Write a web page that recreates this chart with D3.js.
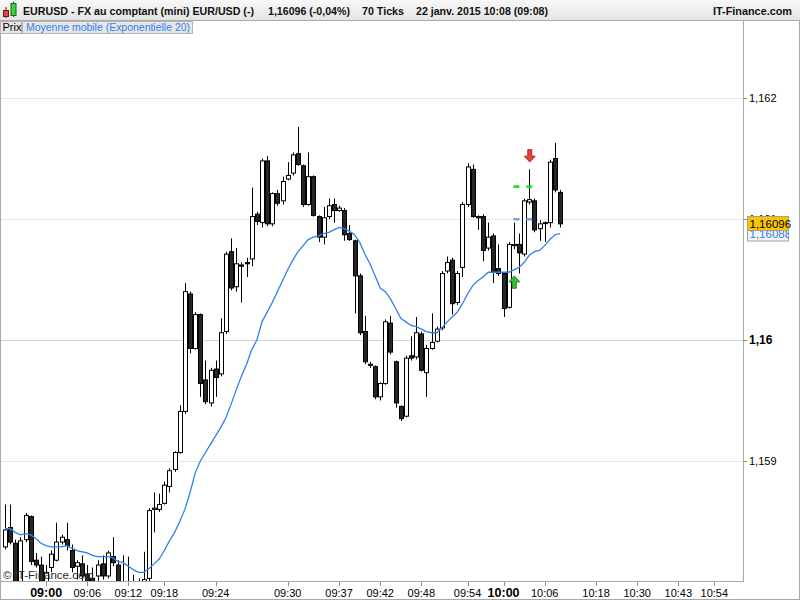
<!DOCTYPE html>
<html>
<head>
<meta charset="utf-8">
<script src="https://cdn.jsdelivr.net/npm/d3@7"></script>
<style>
  body { margin: 0; background: #fff; }
  svg { display: block; font-family: "Liberation Sans", Arial, sans-serif; }
</style>
</head>
<body>
<svg id="chart" width="800" height="600"></svg>
<script>
// 70-tick candles, EURUSD, 22 janv. 2015
const opens = [
  1.15829, 1.15845, 1.15832, 1.15797, 1.15835, 1.15854, 1.15818, 1.15814, 1.15797, 1.15812,
  1.15818, 1.15833, 1.15835, 1.15826, 1.15813, 1.15815, 1.15806, 1.15803, 1.15805, 1.15815,
  1.15805, 1.15821, 1.15814, 1.15799, 1.15798, 1.15789, 1.15795, 1.15793, 1.15803, 1.15860,
  1.15860, 1.15865, 1.15879, 1.15893, 1.15907, 1.15941, 1.16038, 1.15993, 1.16021, 1.15967,
  1.15948, 1.15976, 1.15972, 1.16007, 1.16073, 1.16044, 1.16062, 1.16064, 1.16067, 1.16104,
  1.16097, 1.16148, 1.16096, 1.16121, 1.16115, 1.16133, 1.16138, 1.16154, 1.16144, 1.16112,
  1.16135, 1.16102, 1.16085, 1.16102, 1.16112, 1.16107, 1.16107, 1.16088, 1.16082, 1.16053,
  1.16007, 1.15979, 1.15978, 1.15953, 1.15964, 1.16014, 1.15982, 1.15945, 1.15937, 1.15987,
  1.15986, 1.16005, 1.15973, 1.15993, 1.15999, 1.16010, 1.16057, 1.16066, 1.16031, 1.16060,
  1.16112, 1.16141, 1.16102, 1.16102, 1.16076, 1.16086, 1.16059, 1.16055, 1.16027, 1.16078,
  1.16079, 1.16071, 1.16114, 1.16115, 1.16092, 1.16097, 1.16097, 1.16150, 1.16122
];
const highs = [
  1.15864, 1.15864, 1.15835, 1.15837, 1.15857, 1.15855, 1.15824, 1.15821, 1.15814, 1.15826,
  1.15849, 1.15839, 1.15849, 1.15831, 1.15818, 1.15822, 1.15814, 1.15812, 1.15818, 1.15822,
  1.15826, 1.15837, 1.15818, 1.15822, 1.15821, 1.15806, 1.15803, 1.15825, 1.15861, 1.15874,
  1.15873, 1.15883, 1.15894, 1.15908, 1.15946, 1.16047, 1.16040, 1.16023, 1.16022, 1.15983,
  1.15977, 1.15983, 1.16018, 1.16073, 1.16084, 1.16076, 1.16064, 1.16068, 1.16126, 1.16106,
  1.16150, 1.16152, 1.16122, 1.16124, 1.16135, 1.16147, 1.16155, 1.16176, 1.16145, 1.16155,
  1.16136, 1.16103, 1.16110, 1.16117, 1.16117, 1.16111, 1.16109, 1.16095, 1.16083, 1.16055,
  1.16020, 1.15982, 1.15979, 1.15965, 1.16017, 1.16020, 1.15983, 1.15946, 1.15987, 1.16003,
  1.16019, 1.16007, 1.15996, 1.16022, 1.16011, 1.16057, 1.16069, 1.16068, 1.16057, 1.16114,
  1.16146, 1.16145, 1.16103, 1.16104, 1.16097, 1.16088, 1.16079, 1.16056, 1.16081, 1.16097,
  1.16088, 1.16117, 1.16141, 1.16117, 1.16099, 1.16098, 1.16149, 1.16163, 1.16124
];
const lows = [
  1.15827, 1.15831, 1.15793, 1.15793, 1.15833, 1.15814, 1.15812, 1.15793, 1.15793, 1.15808,
  1.15817, 1.15831, 1.15826, 1.15808, 1.15802, 1.15800, 1.15793, 1.15793, 1.15800, 1.15802,
  1.15803, 1.15813, 1.15793, 1.15789, 1.15787, 1.15785, 1.15788, 1.15790, 1.15800, 1.15841,
  1.15858, 1.15864, 1.15874, 1.15891, 1.15906, 1.15939, 1.15989, 1.15992, 1.15953, 1.15947,
  1.15945, 1.15953, 1.15970, 1.16005, 1.16041, 1.16040, 1.16031, 1.16052, 1.16061, 1.16095,
  1.16093, 1.16094, 1.16094, 1.16111, 1.16112, 1.16132, 1.16136, 1.16144, 1.16110, 1.16111,
  1.16102, 1.16081, 1.16079, 1.16100, 1.16097, 1.16106, 1.16082, 1.16082, 1.16022, 1.16004,
  1.15980, 1.15977, 1.15951, 1.15950, 1.15963, 1.15988, 1.15944, 1.15933, 1.15936, 1.15983,
  1.15984, 1.15974, 1.15953, 1.15992, 1.15998, 1.16008, 1.16055, 1.16021, 1.16029, 1.16052,
  1.16110, 1.16101, 1.16091, 1.16065, 1.16074, 1.16047, 1.16053, 1.16019, 1.16026, 1.16075,
  1.16055, 1.16069, 1.16112, 1.16089, 1.16082, 1.16081, 1.16093, 1.16122, 1.16093
];
const closes = [
  1.15843, 1.15833, 1.15797, 1.15834, 1.15855, 1.15817, 1.15814, 1.15797, 1.15808, 1.15823,
  1.15833, 1.15837, 1.15830, 1.15812, 1.15816, 1.15805, 1.15798, 1.15797, 1.15814, 1.15805,
  1.15824, 1.15816, 1.15797, 1.15792, 1.15789, 1.15795, 1.15792, 1.15802, 1.15859, 1.15861,
  1.15864, 1.15880, 1.15892, 1.15907, 1.15941, 1.16040, 1.15993, 1.16021, 1.15964, 1.15949,
  1.15975, 1.15969, 1.16006, 1.16071, 1.16043, 1.16063, 1.16061, 1.16063, 1.16102, 1.16098,
  1.16148, 1.16096, 1.16121, 1.16113, 1.16131, 1.16136, 1.16153, 1.16145, 1.16112, 1.16135,
  1.16103, 1.16085, 1.16101, 1.16111, 1.16107, 1.16109, 1.16087, 1.16083, 1.16053, 1.16006,
  1.15982, 1.15980, 1.15953, 1.15964, 1.16015, 1.15990, 1.15948, 1.15935, 1.15985, 1.15985,
  1.16006, 1.15975, 1.15993, 1.15998, 1.16009, 1.16055, 1.16064, 1.16030, 1.16055, 1.16112,
  1.16143, 1.16102, 1.16101, 1.16074, 1.16085, 1.16056, 1.16055, 1.16026, 1.16079, 1.16079,
  1.16072, 1.16115, 1.16116, 1.16091, 1.16096, 1.16097, 1.16147, 1.16124, 1.16096
];
// Moyenne mobile (Exponentielle 20)
const ema20 = [
  1.15844, 1.15844, 1.15841, 1.15839, 1.15840, 1.15839, 1.15836, 1.15832, 1.15830, 1.15829,
  1.15829, 1.15829, 1.15830, 1.15828, 1.15826, 1.15825, 1.15824, 1.15822, 1.15821, 1.15821,
  1.15821, 1.15820, 1.15817, 1.15816, 1.15813, 1.15810, 1.15808, 1.15808, 1.15811, 1.15815,
  1.15819, 1.15826, 1.15834, 1.15841, 1.15850, 1.15860, 1.15874, 1.15890, 1.15900, 1.15907,
  1.15914, 1.15921, 1.15928, 1.15936, 1.15947, 1.15959, 1.15970, 1.15980, 1.15992, 1.16000,
  1.16015, 1.16023, 1.16031, 1.16040, 1.16049, 1.16058, 1.16066, 1.16073, 1.16078, 1.16083,
  1.16085, 1.16086, 1.16088, 1.16089, 1.16091, 1.16093, 1.16092, 1.16090, 1.16087, 1.16081,
  1.16071, 1.16063, 1.16053, 1.16043, 1.16040, 1.16034, 1.16026, 1.16018, 1.16015, 1.16012,
  1.16011, 1.16009, 1.16007, 1.16006, 1.16006, 1.16010, 1.16015, 1.16019, 1.16023, 1.16030,
  1.16038, 1.16045, 1.16049, 1.16052, 1.16056, 1.16056, 1.16056, 1.16056, 1.16056, 1.16058,
  1.16060, 1.16064, 1.16070, 1.16073, 1.16074, 1.16078, 1.16083, 1.16087, 1.16088
];

const timeLabels = ["09:00", "09:06", "09:12", "09:18", "09:24", "09:30", "09:37", "09:42",
  "09:48", "09:54", "10:00", "10:06", "10:18", "10:30", "10:43", "10:54"];
const timeIndex = [8, 16, 24, 31, 41, 55, 65, 73, 81, 90, 97, 105, 115, 123, 131, 138];
const boldTimes = ["09:00", "10:00"];
const priceTicks = [1.159, 1.16, 1.161, 1.162];
const priceLabels = ["1,159", "1,16", "1,161", "1,162"];

const lastPrice = 1.16096;
const lastEma = 1.16088;
// signals: [candle index, price]
const downArrows = [[102, 1.16147]];
const upArrows = [[99, 1.16053]];
const greenDashes = [[99.5, 1.16127], [102, 1.16127]];
const blueDashes = [[99.5, 1.16100], [102, 1.16100]];

const PLOT = { left: 1, right: 743, top: 20, bottom: 581 };
const BLUE = "#2f80ee";

const svg = d3.select("#chart");

const x = d3.scaleLinear().domain([0, 138]).range([5, 714.3]);
const y = d3.scaleLinear().domain([1.159, 1.162]).range([461, 98]);

const candles = opens.map((o, i) => ({
  i, o, h: highs[i], l: lows[i], c: closes[i]
}));

const fmtPrice = v => d3.format(".5f")(v).replace(".", ",");

// background
svg.append("rect").attr("width", 800).attr("height", 600).attr("fill", "#fff");

svg.append("defs").append("clipPath").attr("id", "plotClip")
  .append("rect")
  .attr("x", PLOT.left).attr("y", PLOT.top)
  .attr("width", PLOT.right - PLOT.left).attr("height", PLOT.bottom - PLOT.top);

// grid
const gridLayer = svg.append("g");
gridLayer.selectAll("line")
  .data(priceTicks)
  .join("line")
  .attr("x1", PLOT.left).attr("x2", PLOT.right + 4)
  .attr("y1", d => Math.round(y(d)) + 0.5)
  .attr("y2", d => Math.round(y(d)) + 0.5)
  .attr("stroke", d => d === 1.16 ? "#d4d4d4" : "#e6e6e6");

// candles
const plot = svg.append("g").attr("clip-path", "url(#plotClip)");
const candleGroups = plot.append("g")
  .selectAll("g")
  .data(candles)
  .join("g");

candleGroups.append("line")
  .attr("x1", d => Math.round(x(d.i)) + 0.5)
  .attr("x2", d => Math.round(x(d.i)) + 0.5)
  .attr("y1", d => y(d.h))
  .attr("y2", d => y(d.l))
  .attr("stroke", "#000");

candleGroups.append("rect")
  .attr("x", d => Math.round(x(d.i)) - 1.5)
  .attr("width", 4)
  .attr("y", d => y(Math.max(d.o, d.c)))
  .attr("height", d => Math.max(1, y(Math.min(d.o, d.c)) - y(Math.max(d.o, d.c))))
  .attr("fill", d => d.c >= d.o ? "#fff" : "#262626")
  .attr("stroke", "#000")
  .attr("stroke-width", 1);

// EMA 20
plot.append("path")
  .datum(ema20)
  .attr("fill", "none")
  .attr("stroke", BLUE)
  .attr("stroke-width", 1.3)
  .attr("d", d3.line().x((d, i) => x(i)).y(d => y(d)));

// signal markers
const dashLayer = plot.append("g");
dashLayer.selectAll("rect.green")
  .data(greenDashes)
  .join("rect")
  .attr("class", "green")
  .attr("x", d => x(d[0]) - 3).attr("y", d => y(d[1]) - 1)
  .attr("width", 6).attr("height", 2.5)
  .attr("fill", "#16e016");
dashLayer.selectAll("rect.blue")
  .data(blueDashes)
  .join("rect")
  .attr("class", "blue")
  .attr("x", d => x(d[0]) - 3).attr("y", d => y(d[1]) - 1)
  .attr("width", 6).attr("height", 2.5)
  .attr("fill", "#6ea2f2");

const arrowPath = dir => {
  // tip at (0,0); dir = 1 points down, -1 points up
  const s = -dir;
  return `M0,0 L-5.5,${6 * s} L-2,${6 * s} L-2,${12.5 * s} L2,${12.5 * s} L2,${6 * s} L5.5,${6 * s} Z`;
};
plot.append("g").selectAll("path")
  .data(downArrows)
  .join("path")
  .attr("transform", d => `translate(${x(d[0]) + 0.5},${y(d[1])})`)
  .attr("d", arrowPath(1))
  .attr("fill", "#e8403c")
  .attr("stroke", "#a01818")
  .attr("stroke-width", 0.8);
plot.append("g").selectAll("path")
  .data(upArrows)
  .join("path")
  .attr("transform", d => `translate(${x(d[0]) + 0.5},${y(d[1])})`)
  .attr("d", arrowPath(-1))
  .attr("fill", "#34c034")
  .attr("stroke", "#187018")
  .attr("stroke-width", 0.8);

// watermark
svg.append("text")
  .attr("x", 3).attr("y", 579)
  .attr("font-size", 11.5)
  .attr("fill", "#2a2a2a")
  .text("\u00a9 IT-Finance.com");

// frame lines
const frame = svg.append("g").attr("stroke", "#a8a8a8").attr("fill", "none");
frame.append("line").attr("x1", PLOT.right + 0.5).attr("x2", PLOT.right + 0.5)
  .attr("y1", PLOT.top).attr("y2", PLOT.bottom + 1);
frame.append("line").attr("x1", 0).attr("x2", PLOT.right + 1)
  .attr("y1", PLOT.bottom + 0.5).attr("y2", PLOT.bottom + 0.5);
frame.append("line").attr("x1", 0.5).attr("x2", 0.5)
  .attr("y1", PLOT.top).attr("y2", PLOT.bottom);
frame.append("rect").attr("x", 0.5).attr("y", 0.5).attr("width", 799).attr("height", 599);

// right price axis (the 1,161 label sits under the last-price box, as in the original)
const axisR = svg.append("g").attr("font-size", 11);
axisR.selectAll("line")
  .data(priceTicks)
  .join("line")
  .attr("x1", PLOT.right).attr("x2", PLOT.right + 4)
  .attr("y1", d => Math.round(y(d)) + 0.5)
  .attr("y2", d => Math.round(y(d)) + 0.5)
  .attr("stroke", "#909090");
axisR.selectAll("text")
  .data(priceTicks)
  .join("text")
  .attr("x", 749)
  .attr("y", d => y(d))
  .attr("dy", "0.36em")
  .attr("font-weight", d => d === 1.16 ? "bold" : "normal")
  .attr("font-size", d => d === 1.16 ? 12 : 11)
  .attr("fill", "#000")
  .text((d, i) => priceLabels[i]);

// last value boxes
const emaBox = svg.append("g");
emaBox.append("clipPath").attr("id", "emaClip")
  .append("rect").attr("x", 747).attr("y", y(lastEma) - 6).attr("width", 42).attr("height", 13.5);
emaBox.append("rect")
  .attr("x", 747.5).attr("y", y(lastEma) - 6)
  .attr("width", 41).attr("height", 13.5)
  .attr("fill", "#f4f4f4").attr("stroke", "#a0a0a0");
emaBox.append("text")
  .attr("clip-path", "url(#emaClip)")
  .attr("x", 749.5).attr("y", y(lastEma) + 4.5)
  .attr("font-size", 11.5).attr("fill", BLUE)
  .text(fmtPrice(lastEma));

const priceBox = svg.append("g");
priceBox.append("rect")
  .attr("x", 747.5).attr("y", Math.round(y(lastPrice)) - 7.5)
  .attr("width", 41).attr("height", 14)
  .attr("fill", "#f7c600").attr("stroke", "#a0a0a0");
priceBox.append("text")
  .attr("x", 749.5).attr("y", y(lastPrice) + 4.5)
  .attr("font-size", 11.5).attr("fill", "#000")
  .text(fmtPrice(lastPrice));

// time axis
const axisB = svg.append("g");
axisB.selectAll("line")
  .data(timeIndex)
  .join("line")
  .attr("x1", d => Math.round(x(d)) + 0.5)
  .attr("x2", d => Math.round(x(d)) + 0.5)
  .attr("y1", PLOT.bottom + 1).attr("y2", PLOT.bottom + 5)
  .attr("stroke", "#909090");
axisB.selectAll("text")
  .data(timeIndex)
  .join("text")
  .attr("x", d => x(d))
  .attr("y", 597)
  .attr("text-anchor", "middle")
  .attr("font-size", (d, i) => boldTimes.includes(timeLabels[i]) ? 12.5 : 11)
  .attr("font-weight", (d, i) => boldTimes.includes(timeLabels[i]) ? "bold" : "normal")
  .attr("fill", "#000")
  .text((d, i) => timeLabels[i]);

// title bar
const grad = svg.append("defs").append("linearGradient")
  .attr("id", "titleGrad").attr("x1", 0).attr("x2", 0).attr("y1", 0).attr("y2", 1);
grad.append("stop").attr("offset", 0).attr("stop-color", "#f8f8f8");
grad.append("stop").attr("offset", 1).attr("stop-color", "#e4e4e4");
svg.append("rect").attr("x", 0).attr("y", 0).attr("width", 800).attr("height", 20)
  .attr("fill", "url(#titleGrad)");
svg.append("line").attr("x1", 0).attr("x2", 800).attr("y1", 20.5).attr("y2", 20.5)
  .attr("stroke", "#a8a8a8");

// small candle icon
const icon = svg.append("g");
icon.append("line").attr("x1", 6).attr("x2", 6).attr("y1", 7).attr("y2", 18).attr("stroke", "#7a1010");
icon.append("rect").attr("x", 3.5).attr("y", 10.5).attr("width", 5).attr("height", 6)
  .attr("fill", "#e04848").attr("stroke", "#7a1010");
icon.append("line").attr("x1", 13.5).attr("x2", 13.5).attr("y1", 1.5).attr("y2", 17).attr("stroke", "#0e6a0e");
icon.append("rect").attr("x", 11).attr("y", 3.5).attr("width", 5).attr("height", 12)
  .attr("fill", "#3ecf3e").attr("stroke", "#0e6a0e");

// title pieces: [x, text, width]
const titleParts = [
  [23, "EURUSD - FX au comptant (mini) EUR/USD (-)", 231],
  [268, "1,16096 (-0,04%)", 82],
  [362, "70 Ticks", 42],
  [416, "22 janv. 2015 10:08 (09:08)", 132],
  [713, "IT-Finance.com", 79]
];
svg.append("g")
  .selectAll("text")
  .data(titleParts)
  .join("text")
  .attr("x", d => d[0]).attr("y", 15)
  .attr("font-size", 11.3).attr("font-weight", "bold").attr("fill", "#111")
  .attr("textLength", d => d[2])
  .attr("lengthAdjust", "spacingAndGlyphs")
  .text(d => d[1]);

// legend tabs
const legend = svg.append("g");
legend.append("rect").attr("x", 0.5).attr("y", 21.5).attr("width", 21).attr("height", 12)
  .attr("fill", "#e6e6e6").attr("stroke", "#b4b4b4");
legend.append("rect").attr("x", 22.5).attr("y", 21.5).attr("width", 170).attr("height", 12)
  .attr("fill", "#e6e6e6").attr("stroke", "#b4b4b4");
legend.append("text").attr("x", 2.5).attr("y", 31).attr("font-size", 11).attr("fill", "#000")
  .text("Prix");
legend.append("text").attr("x", 26).attr("y", 31).attr("font-size", 11).attr("fill", BLUE)
  .attr("textLength", 164).attr("lengthAdjust", "spacingAndGlyphs")
  .text("Moyenne mobile (Exponentielle 20)");
</script>
</body>
</html>
